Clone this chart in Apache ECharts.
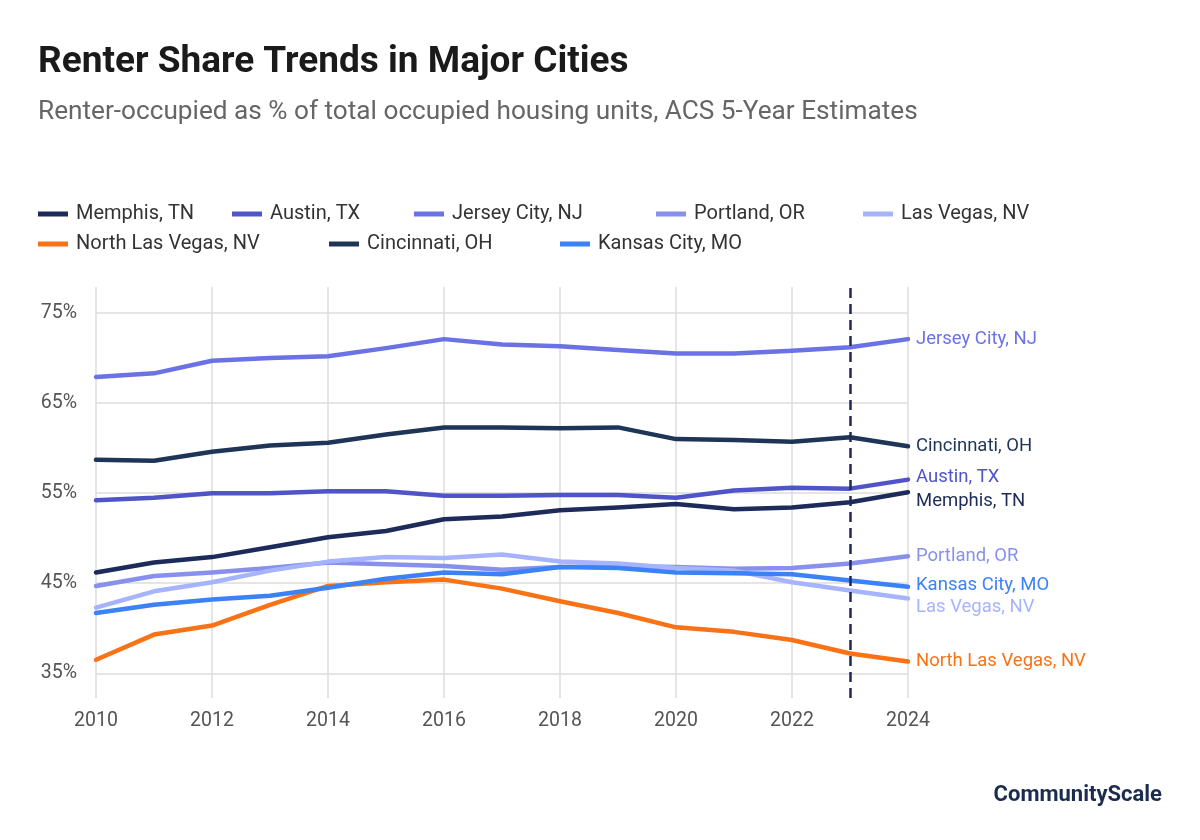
<!DOCTYPE html>
<html>
<head>
<meta charset="utf-8">
<script src="https://cdn.jsdelivr.net/npm/echarts@6/dist/echarts.min.js"></script>
<style>
html,body{margin:0;padding:0;background:#fff;}
#chart{width:1200px;height:840px;}
</style>
</head>
<body>
<div id="chart"></div>
<script>
const years = [2010,2011,2012,2013,2014,2015,2016,2017,2018,2019,2020,2021,2022,2023,2024];
const seriesNames = ['Memphis, TN','Austin, TX','Jersey City, NJ','Portland, OR','Las Vegas, NV','North Las Vegas, NV','Cincinnati, OH','Kansas City, MO'];
const memphis   = [46.2,47.3,47.9,49.0,50.1,50.8,52.1,52.4,53.1,53.4,53.8,53.2,53.4,54.0,55.1];
const austin    = [54.2,54.5,55.0,55.0,55.2,55.2,54.7,54.7,54.8,54.8,54.5,55.3,55.6,55.5,56.5];
const jerseyCity= [67.9,68.3,69.7,70.0,70.2,71.1,72.1,71.5,71.3,70.9,70.5,70.5,70.8,71.2,72.1];
const portland  = [44.7,45.8,46.2,46.7,47.3,47.1,46.9,46.5,46.8,46.9,46.8,46.6,46.7,47.2,48.0];
const lasVegas  = [42.3,44.1,45.1,46.4,47.4,47.9,47.8,48.2,47.4,47.2,46.7,46.4,45.1,44.2,43.3];
const northLasVegas = [36.5,39.3,40.3,42.6,44.7,45.1,45.4,44.4,43.0,41.7,40.1,39.6,38.7,37.2,36.3];
const cincinnati= [58.7,58.6,59.6,60.3,60.6,61.5,62.3,62.3,62.2,62.3,61.0,60.9,60.7,61.2,60.2];
const kansasCity= [41.7,42.6,43.2,43.6,44.5,45.5,46.2,46.0,46.8,46.7,46.2,46.1,46.0,45.3,44.6];
const yTicks = [35,45,55,65,75];
const markerYear = 2023;

const values = [memphis,austin,jerseyCity,portland,lasVegas,northLasVegas,cincinnati,kansasCity];
const colors = ['#1c2b5a','#4f55c8','#6a72e6','#8790ec','#a5b4fc','#f97316','#1e3558','#3b82f6'];
const labelOffsetY = [9,-2,0,0,9,0,0,-1.5];
const legendPos = [[38,203],[232,203],[414,203],[656,203],[863,203],[38,233],[329,233],[560,233]];

const FONT = 'Roboto, "Noto Sans", sans-serif';

const chart = echarts.init(document.getElementById('chart'), null, {renderer:'canvas'});

const series = seriesNames.map((name,i)=>({
  name: name,
  type: 'line',
  xAxisIndex: 0,
  yAxisIndex: 0,
  data: years.map((y,k)=>[y, values[i][k]]),
  showSymbol: false,
  symbol: 'none',
  lineStyle: {width: 4.5, color: colors[i], cap:'round', join:'round'},
  itemStyle: {color: colors[i]},
  emphasis: {disabled: true},
  endLabel: {
    show: true,
    formatter: '{a}',
    color: colors[i],
    fontSize: 18.5,
    fontFamily: FONT,
    distance: 8,
    offset: [0, labelOffsetY[i]]
  },
  z: 3
}));

series.push({
  type: 'line',
  xAxisIndex: 1,
  yAxisIndex: 1,
  data: [[years[0],0],[years[years.length-1],0]],
  showSymbol: false,
  lineStyle: {opacity: 0},
  silent: true,
  markLine: {
    silent: true,
    symbol: ['none','none'],
    label: {show:false},
    lineStyle: {color:'#1c2b5a', width:2.5, type:[10,6]},
    data: [{xAxis: markerYear}]
  },
  z: 2
});

const legends = seriesNames.map((name,i)=>({
  data: [name],
  left: legendPos[i][0],
  top: legendPos[i][1],
  padding: 0,
  icon: 'rect',
  itemWidth: 30,
  itemHeight: 5,
  selectedMode: false,
  textStyle: {fontSize: 20, color:'#333', fontFamily: FONT, lineHeight: 22, padding:[0,0,0,3]}
}));

chart.setOption({
  animation: false,
  backgroundColor: '#fff',
  textStyle: {fontFamily: FONT},
  title: [
    {text:'Renter Share Trends in Major Cities', left:38, top:42, padding:0,
     textStyle:{fontSize:37, fontWeight:'bold', color:'#1a1a1a', fontFamily:FONT, lineHeight:42}},
    {text:'Renter-occupied as % of total occupied housing units, ACS 5-Year Estimates', left:38, top:97, padding:0,
     textStyle:{fontSize:26.2, fontWeight:'normal', color:'#666', fontFamily:FONT, lineHeight:30}},
    {text:'CommunityScale', right:38, top:782, padding:0,
     textStyle:{fontSize:22, fontWeight:'bold', color:'#1c2b50', fontFamily:FONT, lineHeight:26}}
  ],
  legend: legends,
  grid: [
    {left:96, right:292, top:313, bottom:166.7, containLabel:false},
    {left:96, right:292, top:287, bottom:142, containLabel:false}
  ],
  xAxis: [
    {gridIndex:0, type:'value', min:years[0], max:years[years.length-1], interval:2,
     axisLine:{show:false}, axisTick:{show:false}, axisLabel:{show:false}, splitLine:{show:false}},
    {gridIndex:1, type:'value', min:years[0], max:years[years.length-1], interval:2,
     axisLine:{show:false}, axisTick:{show:false},
     axisLabel:{show:true, fontSize:19.5, color:'#555', margin:13, fontFamily:FONT, formatter: v => String(v)},
     splitLine:{show:true, lineStyle:{color:'#dcdcdc', width:1.5}}}
  ],
  yAxis: [
    {gridIndex:0, type:'value', min:yTicks[0], max:yTicks[yTicks.length-1], interval:10,
     axisLine:{show:false}, axisTick:{show:false},
     axisLabel:{fontSize:19.5, color:'#555', margin:19, fontFamily:FONT, formatter:'{value}%'},
     splitLine:{show:true, lineStyle:{color:'#dcdcdc', width:1.5}}},
    {gridIndex:1, type:'value', min:0, max:1, show:false, splitLine:{show:false}}
  ],
  series: series
});
</script>
</body>
</html>
